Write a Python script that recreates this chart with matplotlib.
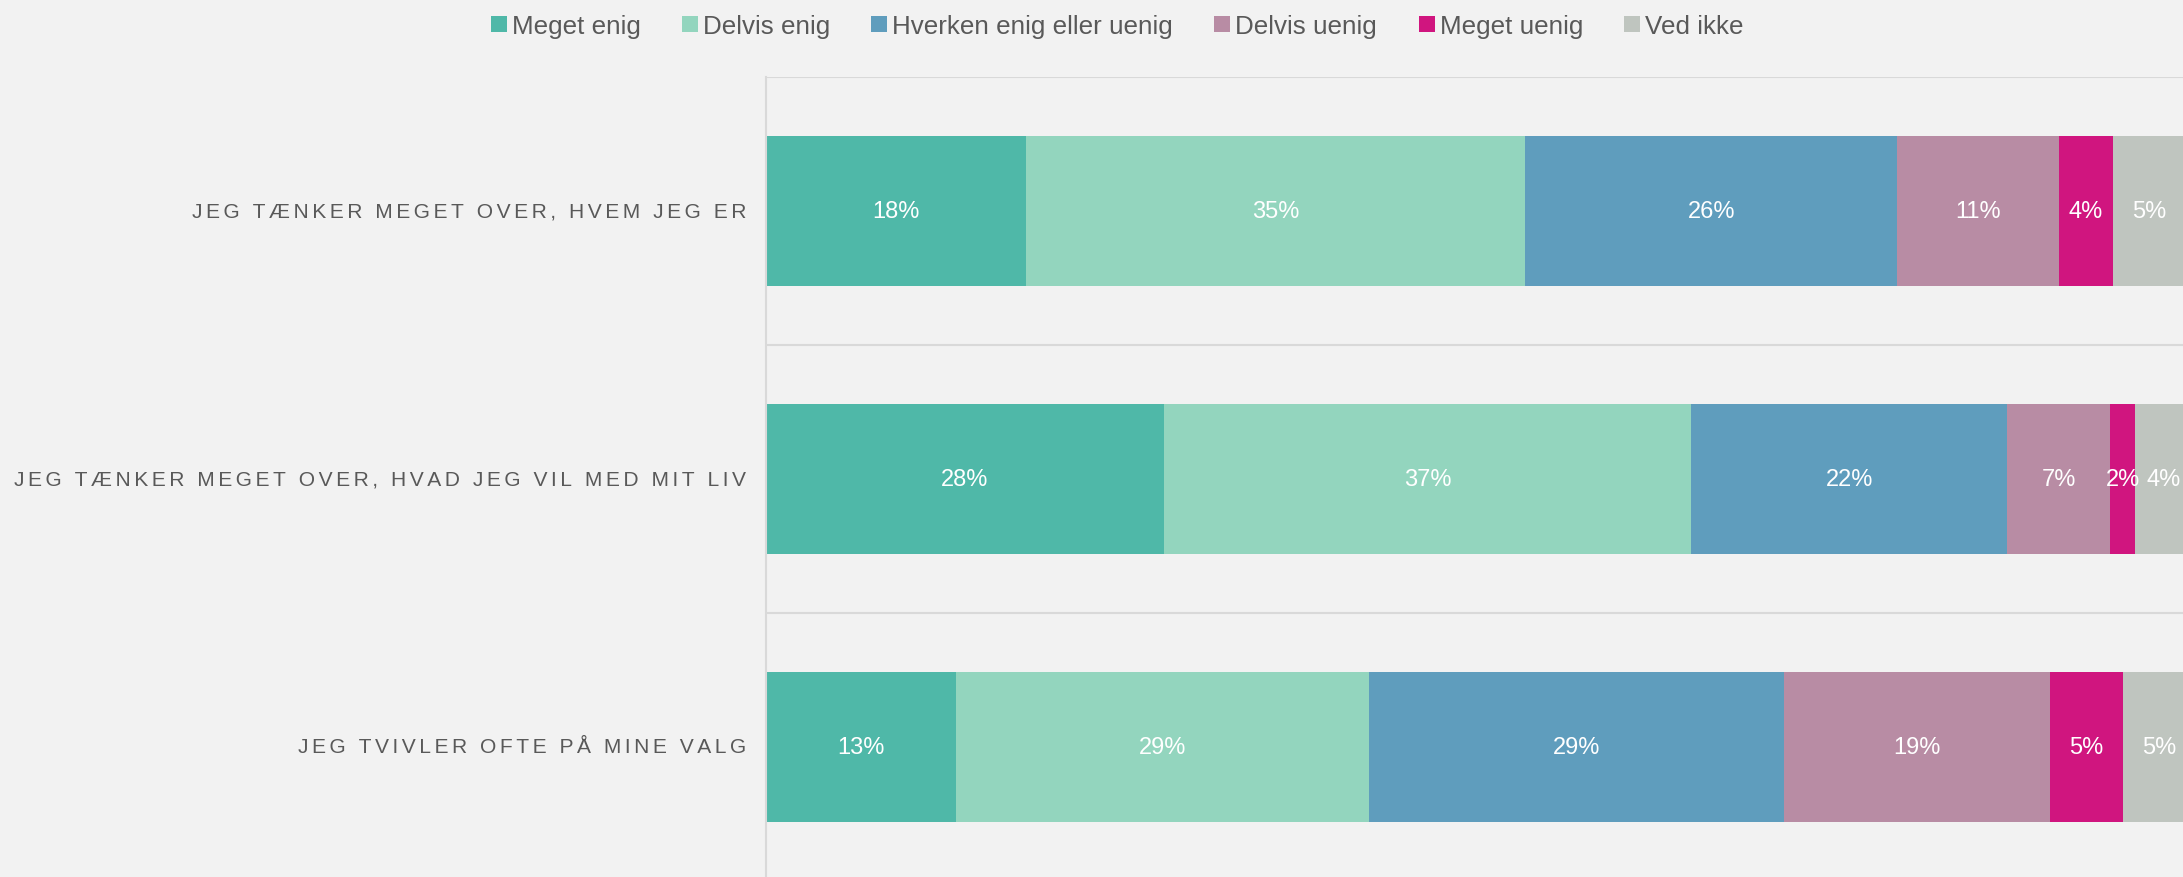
import numpy as np
from matplotlib import pyplot as plt
from matplotlib.lines import Line2D

# survey data (percent)
statements = ['JEG TÆNKER MEGET OVER, HVEM JEG ER',
              'JEG TÆNKER MEGET OVER, HVAD JEG VIL MED MIT LIV',
              'JEG TVIVLER OFTE PÅ MINE VALG']
answers = ['Meget enig', 'Delvis enig', 'Hverken enig eller uenig',
           'Delvis uenig', 'Meget uenig', 'Ved ikke']
meget_enig = [18.2, 27.8, 13.3]
delvis_enig = [34.9, 36.9, 28.9]
hverken = [26.0, 22.1, 29.0]
delvis_uenig = [11.3, 7.2, 18.6]
meget_uenig = [3.8, 1.75, 5.1]
ved_ikke = [5.0, 4.0, 5.0]

colours = ['#4fb8a8', '#93d5be', '#5f9dbd', '#b88ca4', '#d0157f', '#bfc5bf']
bg = '#f2f2f2'
grid = '#d9d9d9'
textcol = '#595959'

plt.rcParams['font.family'] = ['Liberation Sans', 'DejaVu Sans']

fig = plt.figure(figsize=(21.83, 8.78), dpi=100, facecolor=bg)
ax = fig.add_axes([766/2183, -4.0/878, 1430/2183, 804/878])
ax.set_facecolor(bg)

series = [meget_enig, delvis_enig, hverken, delvis_uenig, meget_uenig, ved_ikke]
ypos = np.arange(len(statements))
left = np.zeros(len(statements))
for vals, col in zip(series, colours):
    vals = np.array(vals)
    ax.barh(ypos, vals, left=left, height=0.562, color=col, linewidth=0)
    for y, l, v in zip(ypos, left, vals):
        ax.text(l + v/2, y, '{:.0f}%'.format(v), ha='center', va='center',
                color='white', fontsize=17)
    left = left + vals

ax.set_xlim(0, 100)
ax.set_ylim(2.5, -0.5)
for y in [-0.5, 0.5, 1.5]:
    ax.axhline(y, color=grid, lw=1.5, zorder=0)
for s in ['top', 'right', 'bottom']:
    ax.spines[s].set_visible(False)
ax.spines['left'].set_color(grid)
ax.spines['left'].set_linewidth(1.5)
ax.set_xticks([])
ax.set_yticks([])

# spaced-out category labels
sp = '\u200a\u200a'
for y, lab in zip(ypos, statements):
    ax.text(-1.4, y, sp.join(lab), ha='right', va='center', color=textcol,
            fontsize=15.1, transform=ax.transData)

handles = [Line2D([], [], marker='s', ls='none', markersize=11.5,
                  markerfacecolor=c, markeredgewidth=0) for c in colours]
fig.legend(handles, answers, loc='center', bbox_to_anchor=(0.5115, 1 - 27/878),
           ncol=6, frameon=False, fontsize=18.7, labelcolor=textcol,
           handlelength=0.7, handletextpad=0.15, columnspacing=1.55)

plt.savefig('out.png', dpi=100, facecolor=bg)
